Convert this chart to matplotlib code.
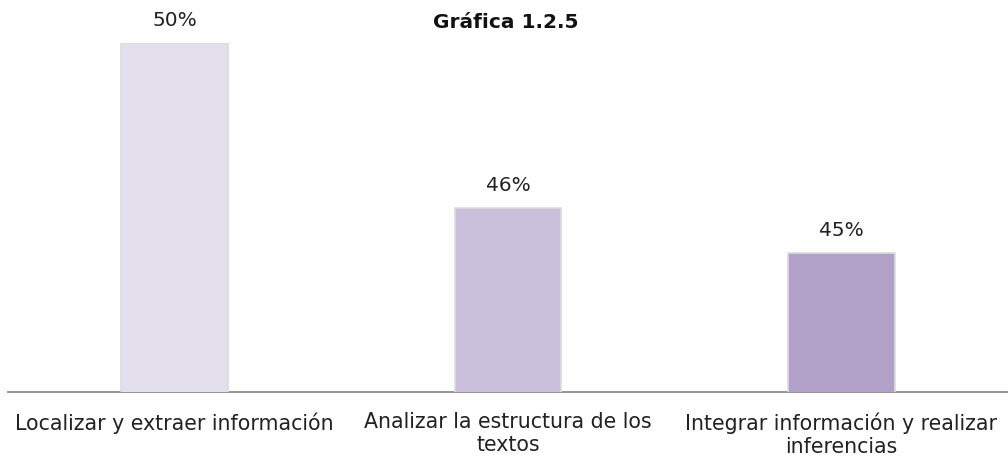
import matplotlib
matplotlib.use("Agg")
import matplotlib.pyplot as plt

categories = ["Localizar y extraer información",
              "Analizar la estructura de los\ntextos",
              "Integrar información y realizar\ninferencias"]
values = [50.0, 46.0, 44.9]
value_labels = ["50%", "46%", "45%"]
colors = ["#E4DFEC", "#CBC0DB", "#B1A0C7"]
title = "Gráfica 1.2.5"

plt.rcParams['font.family'] = ['DejaVu Sans']

W, H = 1008, 459
fig = plt.figure(figsize=(W/100, H/100), dpi=100)
ax = fig.add_axes([8/W, 1-392/H, 1-8/W, (392-43)/H])

x = list(range(len(categories)))
bars = ax.bar(x, values, width=0.32, color=colors, edgecolor="#dcdcdc",
              linewidth=1.2, zorder=3)
ax.set_xlim(-0.5, len(categories)-0.5)
ax.set_ylim(41.54, 50.0)
ax.set_yticks([])
ax.set_xticks(x)
# give every label the same number of lines so the first lines line up
nlines = max(c.count("\n") for c in categories) + 1
padded = [c + "\n " * (nlines - 1 - c.count("\n")) for c in categories]
ax.set_xticklabels(padded, fontsize=14.8, color="#222222", linespacing=1.2)
ax.tick_params(axis='x', length=0, pad=14.5)
for s in ['top', 'right', 'left']:
    ax.spines[s].set_visible(False)
ax.spines['bottom'].set_color("#8c8c8c")
ax.spines['bottom'].set_linewidth(1.3)

for b, lab in zip(bars, value_labels):
    ax.annotate(lab, (b.get_x()+b.get_width()/2, b.get_height()),
                xytext=(0, 16.5), textcoords="offset points",
                ha="center", va="center", fontsize=14.5, color="#222222",
                annotation_clip=False)

fig.text(506/W, 1-23/H, title, ha="center", va="center", fontsize=14.5,
         fontweight="bold", color="#111111")

fig.savefig("out.png", dpi=100)
